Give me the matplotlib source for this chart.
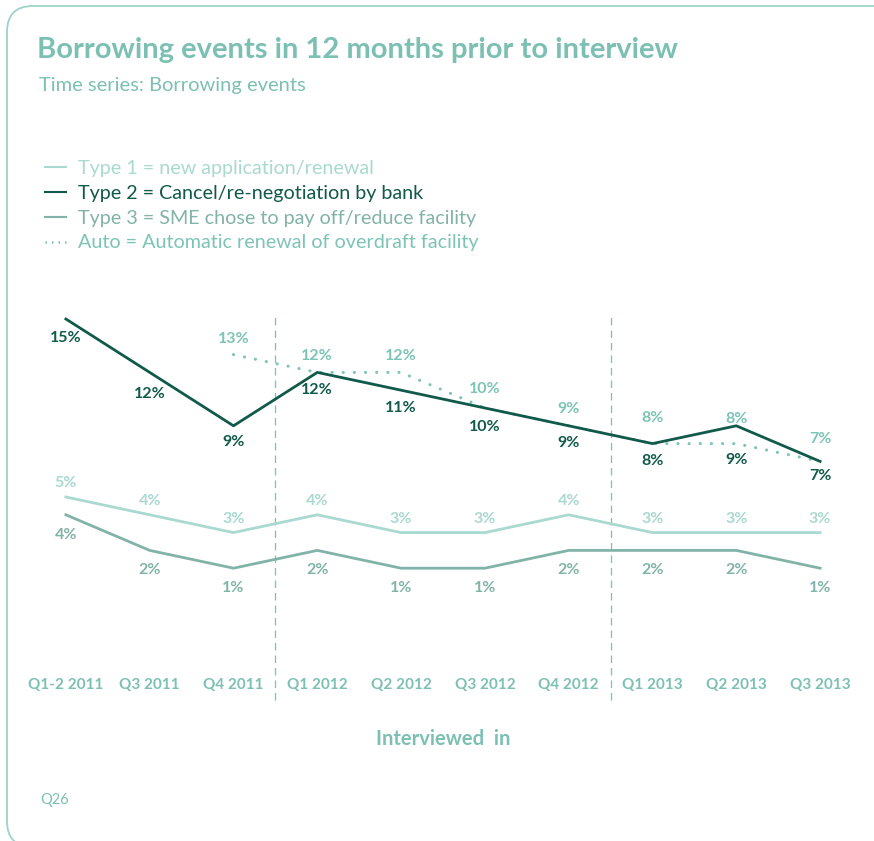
import matplotlib
matplotlib.use("Agg")
import matplotlib.pyplot as plt
from matplotlib.lines import Line2D
from matplotlib.patches import FancyBboxPatch
from matplotlib.transforms import IdentityTransform
import numpy as np

# ---- data -----------------------------------------------------------------
quarters = ["Q1-2 2011", "Q3 2011", "Q4 2011", "Q1 2012", "Q2 2012",
            "Q3 2012", "Q4 2012", "Q1 2013", "Q2 2013", "Q3 2013"]
type1 = [5, 4, 3, 4, 3, 3, 4, 3, 3, 3]
type2 = [15, 12, 9, 12, 11, 10, 9, 8, 9, 7]
type3 = [4, 2, 1, 2, 1, 1, 2, 2, 2, 1]
auto = [np.nan, np.nan, 13, 12, 12, 10, 9, 8, 8, 7]

legend_labels = ["Type 1 = new application/renewal",
                 "Type 2 = Cancel/re-negotiation by bank",
                 "Type 3 = SME chose to pay off/reduce facility",
                 "Auto = Automatic renewal of overdraft facility"]

# ---- styling --------------------------------------------------------------
FONT = "Lato"
TEAL = "#7cc0b3"
C1 = "#a9d9d0"
C2 = "#115a4b"
C3 = "#82b3a8"
CA = "#7cc4b6"

W, H = 874, 841
fig = plt.figure(figsize=(W / 100, H / 100), dpi=100)

# rounded frame around the whole panel
frame = FancyBboxPatch((7, -6), 900, 841, boxstyle="round,pad=0,rounding_size=26",
                       transform=IdentityTransform(), facecolor="none",
                       edgecolor="#9fd2c8", linewidth=1.3)
fig.patches.append(frame)

fig.text(37 / W, 1 - 50 / H, "Borrowing events in 12 months prior to interview",
         fontsize=21, fontweight="bold", color=TEAL, family=FONT, va="center")
fig.text(39 / W, 1 - 86 / H, "Time series: Borrowing events",
         fontsize=14.5, color=TEAL, family=FONT, va="center")
fig.text(40 / W, 1 - 800 / H, "Q26", fontsize=10.5, color=TEAL, family=FONT, va="center")

# plotting area in pixel terms
px_left, px_right = 24, 862
px_top, px_bottom = 313, 668
y_zero, px_per_pct = 586, 17.8
ax = fig.add_axes([px_left / W, 1 - px_bottom / H,
                   (px_right - px_left) / W, (px_bottom - px_top) / H])
ax.set_xlim(-0.5, len(quarters) - 0.5)
ax.set_ylim((y_zero - px_bottom) / px_per_pct, (y_zero - px_top) / px_per_pct)
for s in ax.spines.values():
    s.set_visible(False)
ax.set_yticks([])

x = np.arange(len(quarters))
ax.set_xticks(x)
ax.set_xticklabels(quarters, fontsize=11, fontweight="bold", color=TEAL, family=FONT)
ax.tick_params(axis="x", length=0, pad=7)

# year separators
ext = (700 - px_bottom) / (px_bottom - px_top)
for xv in (2.5, 6.5):
    ax.axvline(xv, ymin=-ext, ymax=1, color=TEAL, lw=0.9, dashes=(6, 4), clip_on=False)

ax.plot(x, auto, color=CA, lw=2.2, linestyle=(0, (0.05, 3.6)), dash_capstyle="round",
        solid_capstyle="round", zorder=2)
ax.plot(x, type1, color=C1, lw=2.0, zorder=3)
ax.plot(x, type3, color=C3, lw=2.0, zorder=3)
ax.plot(x, type2, color=C2, lw=2.0, zorder=4)

def label(series, color, offsets):
    for xi, v, dy in zip(x, series, offsets):
        if np.isnan(v):
            continue
        ax.annotate(f"{v:.0f}%", (xi, v), xytext=(0, dy), textcoords="offset pixels",
                    ha="center", va="center", fontsize=11.5, fontweight="bold",
                    color=color, family=FONT, zorder=5)

label(type2, C2, [-19, -22, -16, -18, -18, -19, -17, -17, -34, -15])
label(type1, C1, [14] * 10)
label(type3, C3, [-20] * 10)
label(auto, CA, [0, 0, 16, 16, 16, 19, 17, 26, 25, 22])

ax.set_xlabel("Interviewed  in", fontsize=14.5, fontweight="bold", color=TEAL,
              family=FONT, labelpad=27)

handles = [Line2D([], [], color=C1, lw=1.5),
           Line2D([], [], color=C2, lw=1.5),
           Line2D([], [], color=C3, lw=1.5),
           Line2D([], [], color=CA, lw=1.8, linestyle=(0, (0.6, 2.0)))]
fig.legend(handles, legend_labels, loc="upper left", bbox_to_anchor=(27 / W, 1 - 142 / H),
           frameon=False, handlelength=1.1, handletextpad=0.6, labelspacing=0.4,
           labelcolor=[C1, C2, C3, CA], prop={"family": FONT, "size": 14.2})

fig.savefig("out.png", dpi=100)
